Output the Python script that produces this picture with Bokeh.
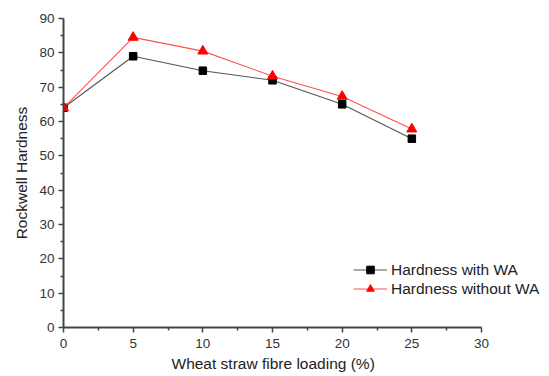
from bokeh.plotting import figure
from bokeh.models import Range1d, FixedTicker, Legend, LegendItem, Title
from bokeh.embed import file_html
from bokeh.resources import INLINE

loading = [0, 5, 10, 15, 20, 25]
hardness_with_wa = [64, 79, 74.8, 72, 65, 55]
hardness_without_wa = [64, 84.5, 80.5, 73.2, 67.3, 57.8]
x_ticks = [0, 5, 10, 15, 20, 25, 30]
y_ticks = [0, 10, 20, 30, 40, 50, 60, 70, 80, 90]

# frame spans to the right edge so the legend is not clipped; axis limited to 0..30
x_end = 30 * 486 / 418.0
p = figure(width=549, height=376, output_backend="svg", toolbar_location=None,
           x_range=Range1d(0, x_end), y_range=Range1d(0, 90))
p.min_border_left = 63
p.min_border_right = 0
p.min_border_top = 18
p.min_border_bottom = 49
p.outline_line_color = None
p.xgrid.visible = False
p.ygrid.visible = False
p.background_fill_color = "white"
p.border_fill_color = "white"

l1 = p.line(loading, hardness_with_wa, line_color="#555555", line_width=1.1)
s1 = p.scatter(loading, hardness_with_wa, marker="square", size=7.5, fill_color="black", line_color="black")
l2 = p.line(loading, hardness_without_wa, line_color="#ff5050", line_width=1.1)
s2 = p.scatter(loading, hardness_without_wa, marker="triangle", size=10, fill_color="red", line_color="red")

for ax, ticks, minor in ((p.xaxis[0], x_ticks, [2.5, 7.5, 12.5, 17.5, 22.5, 27.5]),
                         (p.yaxis[0], y_ticks, [5, 15, 25, 35, 45, 55, 65, 75, 85])):
    ax.ticker = FixedTicker(ticks=ticks, minor_ticks=minor)
    ax.axis_line_width = 2
    ax.axis_line_color = "#444444"
    ax.major_tick_line_color = "#444444"
    ax.major_tick_line_width = 1.5
    ax.minor_tick_line_color = "#444444"
    ax.minor_tick_line_width = 1.5
    ax.major_tick_in = 0
    ax.major_tick_out = 5
    ax.minor_tick_in = 0
    ax.minor_tick_out = 3
    ax.major_label_text_font = "Liberation Sans"
    ax.major_label_text_font_size = "13.5px"
    ax.major_label_text_color = "#333333"
    ax.major_label_standoff = 4
    ax.axis_label_text_font = "Liberation Sans"
    ax.axis_label_text_font_size = "15.5px"
    ax.axis_label_text_font_style = "normal"
    ax.axis_label_text_color = "#222222"

p.xaxis.bounds = (0, 30)
p.xaxis.major_label_standoff = 6
p.yaxis.axis_label = "Rockwell Hardness"
p.yaxis.axis_label_standoff = 6

xlab = Title(text="Wheat straw fibre loading (%)", align="left", offset=108,
             text_font="Liberation Sans", text_font_size="15.5px", text_font_style="normal",
             text_color="#222222", standoff=4)
p.add_layout(xlab, "below")

legend = Legend(items=[LegendItem(label="Hardness with WA", renderers=[l1, s1]),
                       LegendItem(label="Hardness without WA", renderers=[l2, s2])],
                location=(290, 29))
legend.border_line_color = None
legend.background_fill_alpha = 0
legend.label_text_font = "Liberation Sans"
legend.label_text_font_size = "15.5px"
legend.label_text_color = "#222222"
legend.glyph_width = 34
legend.label_standoff = 4
legend.spacing = 0
legend.padding = 2
legend.label_height = 19
legend.glyph_height = 19
p.add_layout(legend)

open("out.html", "w").write(file_html(p, INLINE))
